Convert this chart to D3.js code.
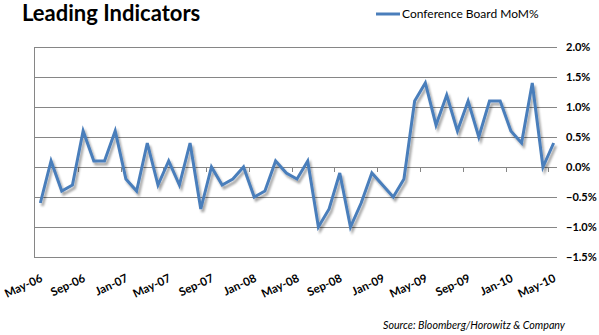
<!DOCTYPE html>
<html><head><meta charset="utf-8">
<script src="https://cdn.jsdelivr.net/npm/d3@7"></script>
<style>body{margin:0;background:#fff}svg{display:block}</style>
</head><body>
<svg id="c" width="599" height="335"></svg>
<script>
const months = ["May-06","Jun-06","Jul-06","Aug-06","Sep-06","Oct-06","Nov-06","Dec-06",
"Jan-07","Feb-07","Mar-07","Apr-07","May-07","Jun-07","Jul-07","Aug-07","Sep-07","Oct-07","Nov-07","Dec-07",
"Jan-08","Feb-08","Mar-08","Apr-08","May-08","Jun-08","Jul-08","Aug-08","Sep-08","Oct-08","Nov-08","Dec-08",
"Jan-09","Feb-09","Mar-09","Apr-09","May-09","Jun-09","Jul-09","Aug-09","Sep-09","Oct-09","Nov-09","Dec-09",
"Jan-10","Feb-10","Mar-10","Apr-10","May-10"];
const mom = [-0.6,0.1,-0.4,-0.3,0.6,0.1,0.1,0.6,
-0.2,-0.4,0.4,-0.3,0.1,-0.3,0.4,-0.7,0.0,-0.3,-0.2,0.0,
-0.5,-0.4,0.1,-0.1,-0.2,0.1,-1.0,-0.7,-0.1,-1.0,-0.6,-0.1,
-0.3,-0.5,-0.2,1.1,1.4,0.7,1.2,0.6,1.1,0.5,1.1,1.1,
0.6,0.4,1.4,0.0,0.4];
const xLabels = ["May-06","Sep-06","Jan-07","May-07","Sep-07","Jan-08","May-08","Sep-08","Jan-09","May-09","Sep-09","Jan-10","May-10"];
const yTicks = [-1.5,-1.0,-0.5,0.0,0.5,1.0,1.5,2.0];
const seriesName = "Conference Board MoM%";
const title = "Leading Indicators";
const source = "Source: Bloomberg/Horowitz & Company";

const svg = d3.select("#c");
const font = "Lato, 'Open Sans', sans-serif";
const L = 35, R = 559, T = 47, B = 257;
const x = d3.scaleBand().domain(months).range([L, R]).padding(0);
const y = d3.scaleLinear().domain([-1.5, 2.0]).range([B, T]);
const cx = m => x(m) + x.bandwidth()/2;

const defs = svg.append("defs");
const f = defs.append("filter").attr("id","sh").attr("x","-10%").attr("y","-10%").attr("width","130%").attr("height","130%");
f.append("feDropShadow").attr("dx",2).attr("dy",3).attr("stdDeviation",1.3).attr("flood-color","#000").attr("flood-opacity",0.35);

// gridlines
svg.append("g").selectAll("line").data(yTicks).join("line")
  .attr("x1", L-1).attr("x2", R-2).attr("y1", d=>Math.round(y(d))+0.5).attr("y2", d=>Math.round(y(d))+0.5)
  .attr("stroke","#868686").attr("stroke-width",1);
// left axis line
svg.append("line").attr("x1",L-0.5).attr("x2",L-0.5).attr("y1",T).attr("y2",B+1).attr("stroke","#868686");

// x-axis tick marks on zero line
const tickIdx = d3.range(4, months.length, 4);
svg.append("g").selectAll("line").data(tickIdx).join("line")
  .attr("x1", i=>Math.round(x(months[i]))+0.5).attr("x2", i=>Math.round(x(months[i]))+0.5)
  .attr("y1", Math.round(y(0))+0.5).attr("y2", Math.round(y(0))+5)
  .attr("stroke","#868686");

// right y axis labels
const yAxis = d3.axisRight(y).tickValues(yTicks).tickSize(0).tickPadding(0)
  .tickFormat(d => d3.format(".1f")(d) + "%");
const ya = svg.append("g").attr("transform", `translate(566,0)`).call(yAxis);
ya.select(".domain").remove();
ya.selectAll("text").attr("font-family", font).attr("font-weight","bold").attr("font-size",11).attr("fill","#000");

// x labels
const xAxis = d3.axisBottom(x).tickValues(xLabels).tickSize(0).tickPadding(0);
const xa = svg.append("g").attr("transform", `translate(0,${B})`).call(xAxis);
xa.select(".domain").remove();
xa.selectAll("text")
  .attr("font-family", font).attr("font-weight","bold").attr("font-size",11.5).attr("fill","#000")
  .attr("text-anchor","end").attr("dy",0).attr("y",0)
  .attr("transform", `translate(3,24) rotate(-25)`);

// line
const line = d3.line().x((d,i)=>cx(months[i])).y(d=>y(d));
svg.append("path").datum(mom).attr("d", line).attr("fill","none")
  .attr("stroke","#4a7ebb").attr("stroke-width",3).attr("stroke-linejoin","miter").attr("filter","url(#sh)");

// title
svg.append("text").attr("x",22).attr("y",21).text(title)
  .attr("font-family", font).attr("font-weight","bold").attr("font-size",22).attr("fill","#000");

// legend
svg.append("line").attr("x1",376).attr("x2",400).attr("y1",14).attr("y2",14).attr("stroke","#4a7ebb").attr("stroke-width",3);
svg.append("text").attr("x",402).attr("y",18).text(seriesName)
  .attr("font-family", font).attr("font-size",12).attr("fill","#000");

// source
svg.append("text").attr("x",565).attr("y",329).attr("text-anchor","end").text(source)
  .attr("font-family", font).attr("font-style","italic").attr("font-size",10.7).attr("fill","#000");
</script>
</body></html>
